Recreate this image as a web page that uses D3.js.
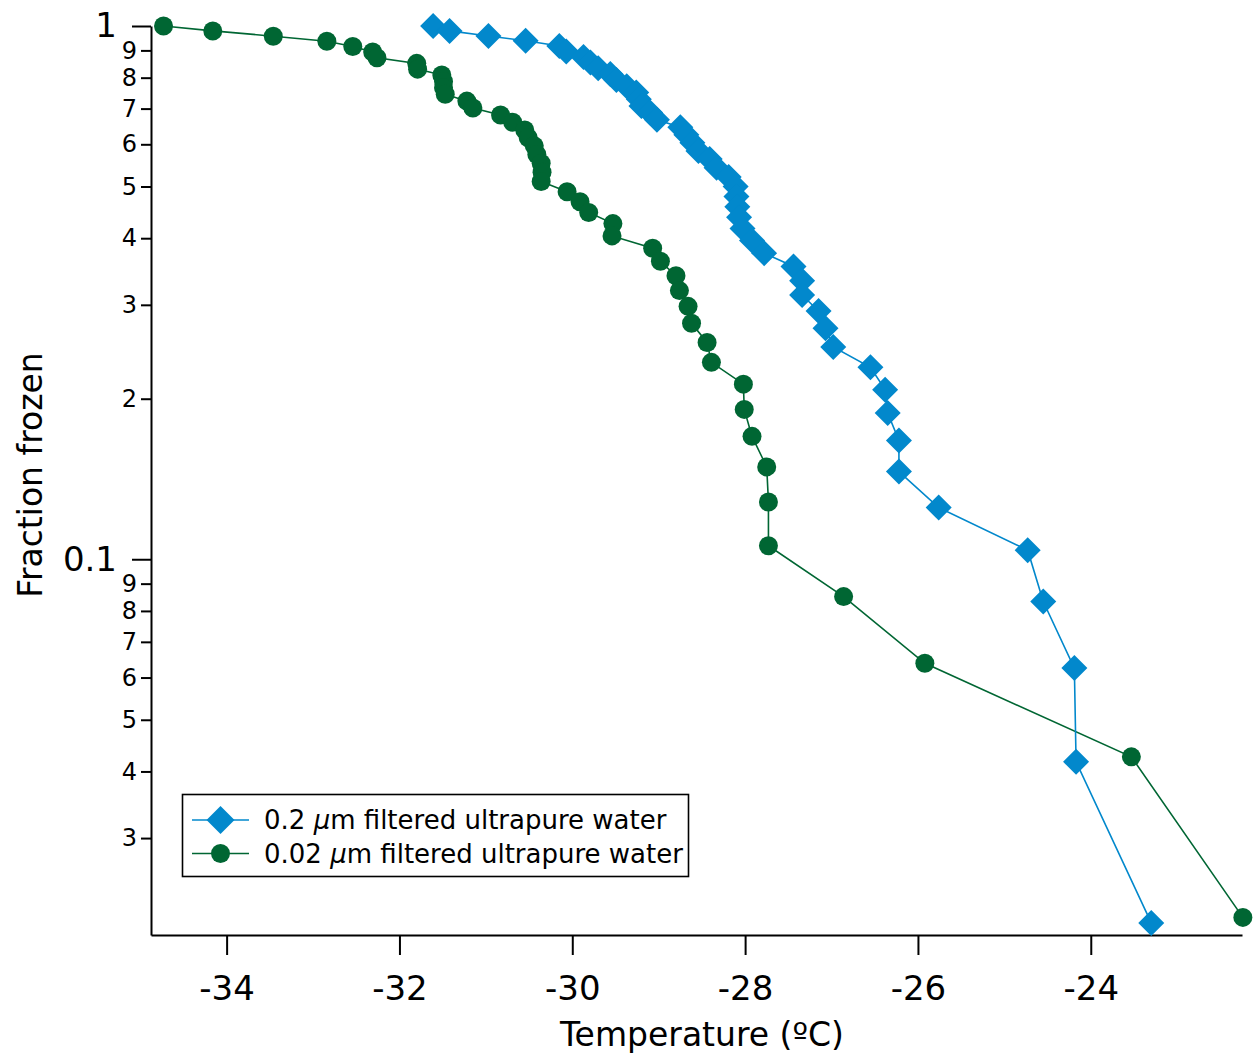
<!DOCTYPE html>
<html>
<head>
<meta charset="utf-8">
<script src="https://cdn.jsdelivr.net/npm/d3@7"></script>
<style>
  html, body { margin: 0; padding: 0; background: #fff; }
  svg { display: block; font-family: "DejaVu Sans", sans-serif; }
</style>
</head>
<body>
<svg id="chart" width="1253" height="1058"></svg>
<script>
// Freezing curves: fraction of droplets frozen vs. temperature
const seriesNames = ["0.2 \u00b5m filtered ultrapure water", "0.02 \u00b5m filtered ultrapure water"];

// 0.2 um filtered water (48 droplets)
const blueTemp = [-31.61, -31.42, -30.97, -30.54, -30.15, -30.07, -29.87, -29.79, -29.70, -29.56,
                  -29.49, -29.37, -29.26, -29.23, -29.20, -29.10, -29.02, -28.75, -28.68, -28.61,
                  -28.54, -28.41, -28.33, -28.19, -28.11, -28.10, -28.09, -28.07, -28.03, -27.92,
                  -27.78, -27.44, -27.34, -27.34, -27.15, -27.07, -26.98, -26.55, -26.38, -26.35,
                  -26.22, -26.22, -25.76, -24.73, -24.55, -24.19, -24.17, -23.30];
const blueFrac = [1, 0.979, 0.958, 0.938, 0.917, 0.896, 0.875, 0.854, 0.833, 0.813,
                  0.792, 0.771, 0.75, 0.729, 0.708, 0.688, 0.667, 0.646, 0.625, 0.604,
                  0.583, 0.563, 0.542, 0.521, 0.5, 0.479, 0.458, 0.438, 0.417, 0.396,
                  0.375, 0.354, 0.333, 0.313, 0.292, 0.271, 0.25, 0.229, 0.208, 0.188,
                  0.167, 0.146, 0.125, 0.104, 0.0833, 0.0625, 0.0417, 0.0208];

// 0.02 um filtered water (47 droplets)
const greenTemp = [-34.73, -34.16, -33.46, -32.84, -32.54, -32.31, -32.26, -31.80, -31.79, -31.51,
                   -31.49, -31.49, -31.47, -31.22, -31.15, -30.83, -30.69, -30.55, -30.51, -30.44,
                   -30.41, -30.36, -30.35, -30.36, -30.06, -29.91, -29.81, -29.53, -29.54, -29.07,
                   -28.98, -28.80, -28.76, -28.66, -28.62, -28.44, -28.39, -28.02, -28.01, -27.92,
                   -27.75, -27.73, -27.73, -26.86, -25.92, -23.53, -22.24];
const greenFrac = [1, 0.979, 0.957, 0.936, 0.915, 0.894, 0.872, 0.851, 0.830, 0.809,
                   0.787, 0.766, 0.745, 0.723, 0.702, 0.681, 0.660, 0.638, 0.617, 0.596,
                   0.574, 0.553, 0.532, 0.511, 0.489, 0.468, 0.447, 0.426, 0.404, 0.383,
                   0.362, 0.340, 0.319, 0.298, 0.277, 0.255, 0.234, 0.213, 0.191, 0.170,
                   0.149, 0.128, 0.106, 0.0851, 0.0638, 0.0426, 0.0213];

const xTicks = [-34, -32, -30, -28, -26, -24];
const yMajorTicks = [1, 0.1];
const yMajorLabels = ["1", "0.1"];
const yMinorTicks = [0.9, 0.8, 0.7, 0.6, 0.5, 0.4, 0.3, 0.2, 0.09, 0.08, 0.07, 0.06, 0.05, 0.04, 0.03];
const yMinorLabels = ["9", "8", "7", "6", "5", "4", "3", "2", "9", "8", "7", "6", "5", "4", "3"];

const BLUE = "#0288cc";
const GREEN = "#006633";

const svg = d3.select("#chart");
const plotLeft = 151, plotRight = 1242, plotTop = 26, plotBottom = 935;

const x = d3.scaleLinear().domain([-34.875, -22.25]).range([plotLeft, plotRight]);
const y = d3.scaleLog().domain([1, 0.01974]).range([plotTop, plotBottom]);

// axes
const xAxis = svg.append("g")
  .attr("transform", `translate(0,${plotBottom})`)
  .call(d3.axisBottom(x).tickValues(xTicks).tickFormat(d => String(d)).tickSize(20).tickSizeOuter(0).tickPadding(21));

const yMinor = svg.append("g")
  .attr("transform", `translate(${plotLeft},0)`)
  .call(d3.axisLeft(y).tickValues(yMinorTicks).tickFormat((d, i) => yMinorLabels[i]).tickSize(10).tickPadding(4));
yMinor.select(".domain").remove();

const yMajor = svg.append("g")
  .attr("transform", `translate(${plotLeft},0)`)
  .call(d3.axisLeft(y).tickValues(yMajorTicks).tickFormat((d, i) => yMajorLabels[i]).tickSize(19).tickSizeOuter(0).tickPadding(15));

svg.selectAll(".domain").attr("stroke", "#000").attr("stroke-width", 2);
svg.selectAll(".tick line").attr("stroke", "#000").attr("stroke-width", 2);
svg.selectAll(".tick text").attr("fill", "#000").attr("font-family", "DejaVu Sans");
xAxis.selectAll(".tick text").attr("font-size", 34);
yMajor.selectAll(".tick text").attr("font-size", 34);
yMinor.selectAll(".tick text").attr("font-size", 24);

// axis titles
svg.append("text")
  .attr("x", 702).attr("y", 1046)
  .attr("text-anchor", "middle")
  .attr("font-size", 33)
  .text("Temperature (\u00baC)");

svg.append("text")
  .attr("transform", "translate(42,475) rotate(-90)")
  .attr("text-anchor", "middle")
  .attr("font-size", 33)
  .text("Fraction frozen");

// markers
const diamond = r => `M0,${-r}L${r},0L0,${r}L${-r},0Z`;
const line = d3.line().x(d => x(d[0])).y(d => y(d[1]));

const greenData = greenTemp.map((t, i) => [t, greenFrac[i]]);
const blueData = blueTemp.map((t, i) => [t, blueFrac[i]]);

function drawSeries(data, color, marker) {
  const g = svg.append("g");
  g.append("path").datum(data)
    .attr("d", line).attr("fill", "none")
    .attr("stroke", color).attr("stroke-width", 1.6);
  if (marker === "circle") {
    g.selectAll("circle").data(data).join("circle")
      .attr("cx", d => x(d[0])).attr("cy", d => y(d[1]))
      .attr("r", 9.5).attr("fill", color);
  } else {
    g.selectAll("path.m").data(data).join("path").attr("class", "m")
      .attr("transform", d => `translate(${x(d[0])},${y(d[1])})`)
      .attr("d", diamond(13)).attr("fill", color);
  }
}
drawSeries(greenData, GREEN, "circle");
drawSeries(blueData, BLUE, "diamond");

// legend
const lg = svg.append("g");
lg.append("rect")
  .attr("x", 182.5).attr("y", 794.5).attr("width", 506).attr("height", 82)
  .attr("fill", "#fff").attr("stroke", "#000").attr("stroke-width", 1.6);

const rows = [
  { name: seriesNames[0], color: BLUE, marker: "diamond", y: 820 },
  { name: seriesNames[1], color: GREEN, marker: "circle", y: 853.5 }
];
rows.forEach(r => {
  lg.append("line").attr("x1", 192).attr("x2", 249).attr("y1", r.y).attr("y2", r.y)
    .attr("stroke", r.color).attr("stroke-width", 1.6);
  if (r.marker === "circle") {
    lg.append("circle").attr("cx", 220.5).attr("cy", r.y).attr("r", 9.5).attr("fill", r.color);
  } else {
    lg.append("path").attr("transform", `translate(220.5,${r.y})`).attr("d", diamond(14)).attr("fill", r.color);
  }
  const parts = r.name.split("\u00b5");
  const t = lg.append("text").attr("x", 264).attr("y", r.y + 9).attr("font-size", 26);
  t.append("tspan").text(parts[0]);
  t.append("tspan").attr("font-style", "italic").text("\u00b5");
  t.append("tspan").text(parts[1]);
});
</script>
</body>
</html>
